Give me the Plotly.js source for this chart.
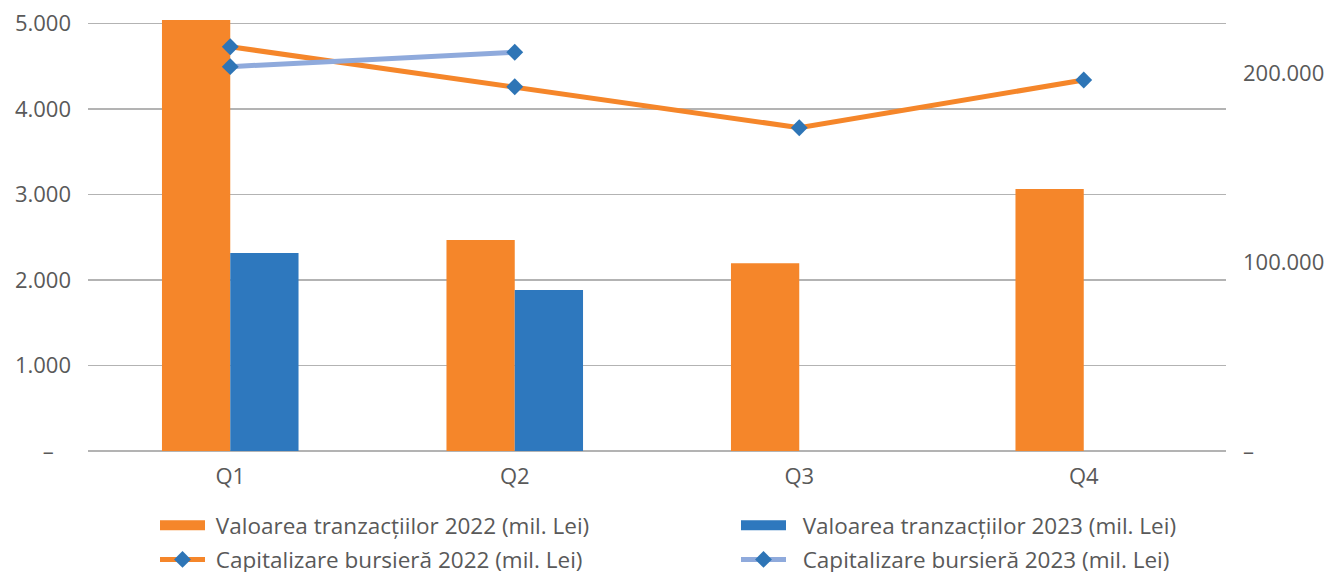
<!DOCTYPE html>
<html>
<head>
<meta charset="utf-8">
<script src="https://cdn.plot.ly/plotly-3.0.1.min.js"></script>
<style>html,body{margin:0;padding:0;background:#fff;}#chart{width:1333px;height:572px;}</style>
</head>
<body>
<div id="chart"></div>
<script>
const categories = ['Q1', 'Q2', 'Q3', 'Q4'];
const valoare2022 = [5040, 2468, 2195, 3064];
const valoare2023 = [2316, 1883, null, null];
const capitalizare2022 = [213900, 192750, 171060, 196300];
const capitalizare2023 = [203350, 210950, null, null];
const leftTickVals = [0, 1000, 2000, 3000, 4000, 5000];
const leftTickText = ['–\u00a0\u00a0\u00a0', '1.000', '2.000', '3.000', '4.000', '5.000'];
const rightTickVals = [0, 100000, 200000];
const rightTickText = ['–', '100.000', '200.000'];

const names = [
  'Valoarea tranzacțiilor 2022 (mil. Lei)',
  'Valoarea tranzacțiilor 2023 (mil. Lei)',
  'Capitalizare bursieră 2022 (mil. Lei)',
  'Capitalizare bursieră 2023 (mil. Lei)'
];
const orange = '#F5862A';
const blue = '#2E78BE';
const lightBlue = '#8FAADC';
const markerBlue = '#2E75B6';
const FONT = '"Open Sans", Lato, sans-serif';
const txt = '#595959';
const FS = 22;

const traces = [
  {type: 'bar', x: categories, y: valoare2022, name: names[0], marker: {color: orange}, showlegend: false, legendgroup: 'a'},
  {type: 'bar', x: categories, y: valoare2023, name: names[1], marker: {color: blue}, showlegend: false, legendgroup: 'b'},
  {type: 'scatter', mode: 'lines+markers', x: categories, y: capitalizare2022, yaxis: 'y2', name: names[2],
   line: {color: orange, width: 5}, marker: {symbol: 'diamond', size: 13, color: markerBlue}, showlegend: false, legendgroup: 'c'},
  {type: 'scatter', mode: 'lines+markers', x: categories, y: capitalizare2023, yaxis: 'y2', name: names[3],
   line: {color: lightBlue, width: 5}, marker: {symbol: 'diamond', size: 13, color: markerBlue}, showlegend: false, legendgroup: 'd'},
  // legend entries: column 1 -> legend, column 2 -> legend2
  {type: 'scatter', mode: 'lines', x: [null], y: [null], name: '\u00a0' + names[0], line: {color: orange, width: 11}, legendgroup: 'a', legend: 'legend', hoverinfo: 'skip'},
  {type: 'scatter', mode: 'lines+markers', x: [null], y: [null], yaxis: 'y2', name: '\u00a0' + names[2], line: {color: orange, width: 5}, marker: {symbol: 'diamond', size: 13, color: markerBlue}, legendgroup: 'c', legend: 'legend', hoverinfo: 'skip'},
  {type: 'scatter', mode: 'lines', x: [null], y: [null], name: '\u00a0\u00a0' + names[1], line: {color: blue, width: 11}, legendgroup: 'b', legend: 'legend2', hoverinfo: 'skip'},
  {type: 'scatter', mode: 'lines+markers', x: [null], y: [null], yaxis: 'y2', name: '\u00a0\u00a0' + names[3], line: {color: lightBlue, width: 5}, marker: {symbol: 'diamond', size: 13, color: markerBlue}, legendgroup: 'd', legend: 'legend2', hoverinfo: 'skip'}
];

const legendBase = {orientation: 'v', xanchor: 'left', yanchor: 'top', itemwidth: 45, tracegroupgap: 2,
                    font: {size: 22.5, color: txt, family: FONT}, traceorder: 'grouped', bgcolor: 'rgba(0,0,0,0)', borderwidth: 0};

const layout = {
  width: 1333, height: 572, autosize: false,
  margin: {l: 88, r: 107, t: 20, b: 121, autoexpand: false},
  paper_bgcolor: '#fff', plot_bgcolor: '#fff',
  font: {family: FONT, size: FS, color: txt},
  barmode: 'group', bargap: 0.52, bargroupgap: 0,
  xaxis: {type: 'category', showgrid: false, showline: false, ticks: '', ticklabelstandoff: 10, tickfont: {size: FS, color: txt}, fixedrange: true},
  yaxis: {range: [0, 5040], tickvals: leftTickVals, ticktext: leftTickText, showgrid: true, gridcolor: '#B3B3B3', gridwidth: 1.5,
          zeroline: true, zerolinecolor: '#B3B3B3', zerolinewidth: 1.5, showline: false, ticks: '', ticklabelstandoff: 16,
          tickfont: {size: FS, color: txt}, fixedrange: true},
  yaxis2: {range: [0, 228042], overlaying: 'y', side: 'right', tickvals: rightTickVals, ticktext: rightTickText,
           showgrid: false, zeroline: false, showline: false, ticks: '', ticklabelstandoff: 16,
           tickfont: {size: FS, color: txt}, fixedrange: true},
  legend: Object.assign({}, legendBase, {x: (155 - 88) / 1138, y: -(504 - 451) / 431}),
  legend2: Object.assign({}, legendBase, {x: (736 - 88) / 1138, y: -(504 - 451) / 431}),
  showlegend: true
};

Plotly.newPlot('chart', traces, layout, {displayModeBar: false, staticPlot: true});
</script>
</body>
</html>
